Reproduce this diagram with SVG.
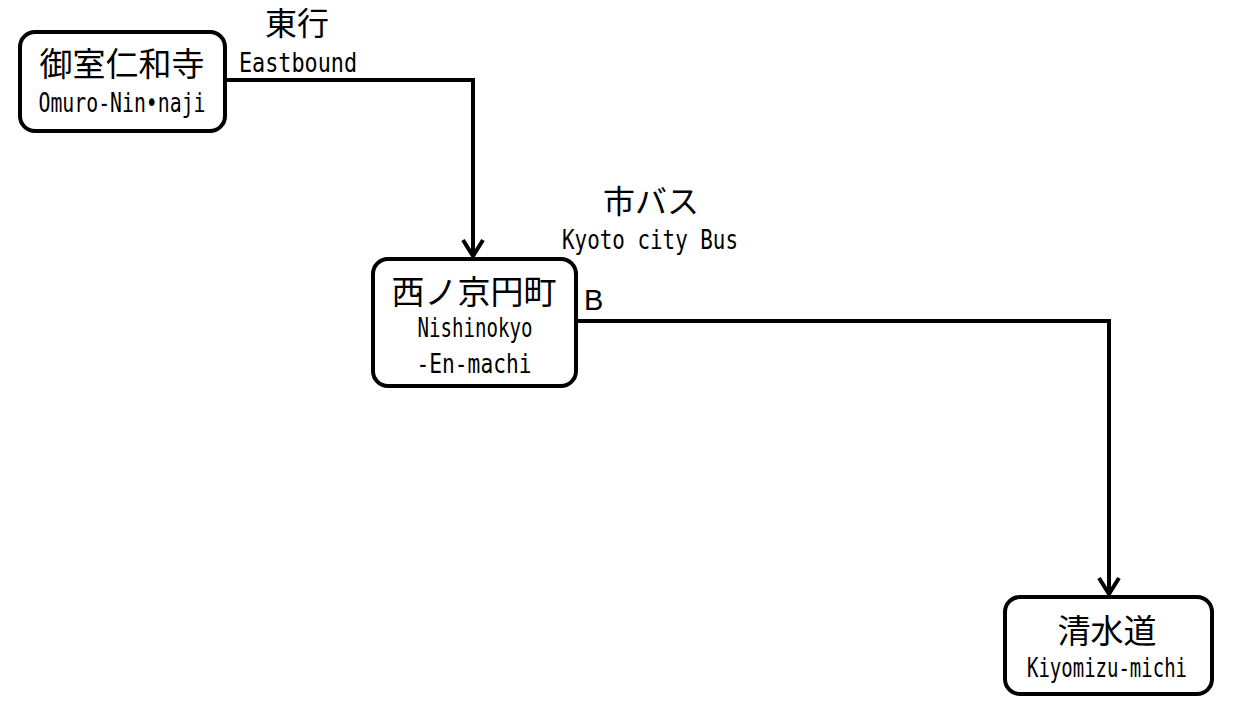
<svg xmlns="http://www.w3.org/2000/svg" width="1235" height="713" viewBox="0 0 1235 713">
<style>
.box{fill:#fff;stroke:#000;stroke-width:4}
.jp{font-family:"Noto Sans CJK JP",sans-serif;font-size:33px;fill:#000;text-anchor:middle}
.jl{font-family:"Noto Sans CJK JP",sans-serif;font-size:32px;fill:#000;text-anchor:middle}
.en{font-family:"DejaVu Sans Mono","Liberation Mono",monospace;font-size:26px;fill:#000;text-anchor:middle}
.lbl{font-family:"Liberation Sans",sans-serif;font-size:29px;fill:#000}
.conn{fill:none;stroke:#000;stroke-width:4}
.head{fill:none;stroke:#000;stroke-width:4}
</style>
<rect width="1235" height="713" fill="#fff"/>
<g id="connectors">
<path class="conn" d="M225,80 H473 V256"/>
<path class="head" d="M463,240 L473,256 L483,240"/>
<path class="conn" d="M576,321 H1109 V594"/>
<path class="head" d="M1099,578 L1109,594 L1119,578"/>
<text class="jl" x="297" y="35">東行</text>
<text class="en" x="298" y="72" textLength="118" lengthAdjust="spacingAndGlyphs">Eastbound</text>
<text class="jl" x="651" y="213">市バス</text>
<text class="en" x="650" y="249" textLength="176" lengthAdjust="spacingAndGlyphs">Kyoto city Bus</text>
<text class="lbl" x="584" y="310">B</text>
</g>
<g id="omuro">
<rect class="box" x="20" y="32" width="205" height="99" rx="15"/>
<text class="jp" x="122" y="76">御室仁和寺</text>
<text class="en" x="122" y="112" textLength="167" lengthAdjust="spacingAndGlyphs">Omuro-Nin•naji</text>
</g>
<g id="nishinokyo">
<rect class="box" x="373" y="259" width="203" height="127" rx="15"/>
<text class="jp" x="474" y="304">西ノ京円町</text>
<text class="en" x="475" y="337" textLength="115" lengthAdjust="spacingAndGlyphs">Nishinokyo</text>
<text class="en" x="474" y="373" textLength="115" lengthAdjust="spacingAndGlyphs">-En-machi</text>
</g>
<g id="kiyomizu">
<rect class="box" x="1005" y="597" width="207" height="97" rx="15"/>
<text class="jp" x="1107" y="643">清水道</text>
<text class="en" x="1107" y="677" textLength="160" lengthAdjust="spacingAndGlyphs">Kiyomizu-michi</text>
</g>
</svg>
